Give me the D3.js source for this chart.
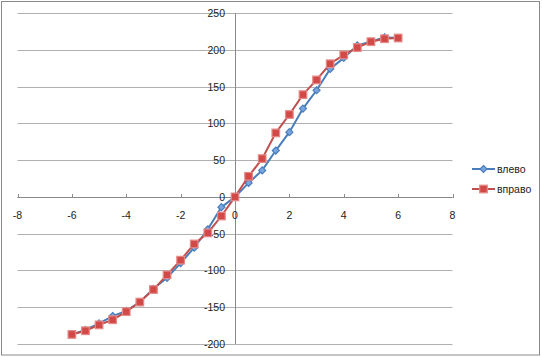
<!DOCTYPE html>
<html><head><meta charset="utf-8">
<script src="https://cdn.jsdelivr.net/npm/d3@7"></script>
<style>body{margin:0;background:#fff}svg{display:block}text{font-family:"Liberation Sans",Arial,sans-serif;fill:#222}</style>
</head><body>
<script>
const xVals = [-6,-5.5,-5,-4.5,-4,-3.5,-3,-2.5,-2,-1.5,-1,-0.5,0,0.5,1,1.5,2,2.5,3,3.5,4,4.5,5,5.5,6];
const leftVals  = [-187,-181,-172,-162,-155,-143,-125,-110,-90,-69,-44,-14,0,19,36,63,88,120,145,174,189,206,211,217,216];
const rightVals = [-187,-182,-174,-167,-156,-143,-126,-106,-86,-64,-49,-26,0,28,52,87,112,139,159,181,193,203,211,215,216];
const seriesNames = ["влево","вправо"];
const xTicks = [-8,-6,-4,-2,0,2,4,6,8];
const yTicks = [-200,-150,-100,-50,0,50,100,150,200,250];

const W=542,H=357;
const svg=d3.select("body").append("svg").attr("width",W).attr("height",H);
svg.append("rect").attr("x",1.5).attr("y",1.5).attr("width",538).attr("height",353.5)
  .attr("fill","#fff").attr("stroke","#8a8a8a").attr("stroke-width",1);

const x=d3.scaleLinear().domain([-8,8]).range([17.5,452.5]);
const y=d3.scaleLinear().domain([-200,250]).range([344,13]);

svg.append("g").selectAll("line").data(yTicks).join("line")
  .attr("x1",x(-8)).attr("x2",x(8)).attr("y1",d=>Math.round(y(d))+0.5).attr("y2",d=>Math.round(y(d))+0.5)
  .attr("stroke","#b0b0b0").attr("stroke-width",1);
svg.append("line").attr("x1",Math.round(x(0))+0.5).attr("x2",Math.round(x(0))+0.5)
  .attr("y1",y(250)).attr("y2",y(-200)).attr("stroke","#8a8a8a");
const xa=svg.append("g");
xa.append("line").attr("x1",x(-8)).attr("x2",x(8)).attr("y1",Math.round(y(0))+0.5).attr("y2",Math.round(y(0))+0.5).attr("stroke","#8a8a8a");
xa.selectAll("line.t").data(xTicks).join("line").attr("class","t")
  .attr("x1",d=>Math.round(x(d))+0.5).attr("x2",d=>Math.round(x(d))+0.5)
  .attr("y1",Math.round(y(0))-3).attr("y2",Math.round(y(0))+1).attr("stroke","#8a8a8a");
xa.selectAll("text").data(xTicks).join("text")
  .attr("x",d=>x(d)).attr("y",y(0)+22).attr("text-anchor","middle").attr("font-size",10.5).text(d=>d);
svg.append("g").selectAll("text").data(yTicks).join("text")
  .attr("x",x(0)-10).attr("y",d=>y(d)+4).attr("text-anchor","end").attr("font-size",10.5).text(d=>d);

const line=d3.line().x(d=>x(d[0])).y(d=>y(d[1]));
const blueData=xVals.map((v,i)=>[v,leftVals[i]]);
const redData=xVals.map((v,i)=>[v,rightVals[i]]);
const blue="#4a7ebb", red="#c0504d";

function diamond(g,cx,cy){
  g.append("path").attr("d",`M${cx},${cy-3.5}L${cx+3.5},${cy}L${cx},${cy+3.5}L${cx-3.5},${cy}Z`)
   .attr("fill","#7aa6e0").attr("stroke",blue).attr("stroke-width",1.2);
}
function square(g,cx,cy){
  g.append("rect").attr("x",cx-3.8).attr("y",cy-3.8).attr("width",7.6).attr("height",7.6)
   .attr("fill","#d24a47").attr("stroke","#e58a88").attr("stroke-width",1.2);
}

svg.append("path").datum(blueData).attr("d",line).attr("fill","none").attr("stroke",blue).attr("stroke-width",2);
const gb=svg.append("g");
blueData.forEach(d=>diamond(gb,x(d[0]),y(d[1])));
svg.append("path").datum(redData).attr("d",line).attr("fill","none").attr("stroke",red).attr("stroke-width",2);
const gr=svg.append("g");
redData.forEach(d=>square(gr,x(d[0]),y(d[1])));

const lg=svg.append("g");
[[169,blue,0],[189,red,1]].forEach(([ly,c,i])=>{
  lg.append("line").attr("x1",472).attr("x2",495).attr("y1",ly).attr("y2",ly).attr("stroke",c).attr("stroke-width",2);
  if(i===0) diamond(lg,483.5,ly); else square(lg,483.5,ly);
  lg.append("text").attr("x",497).attr("y",ly+4).attr("font-size",10.5).text(seriesNames[i]);
});
</script>
</body></html>
